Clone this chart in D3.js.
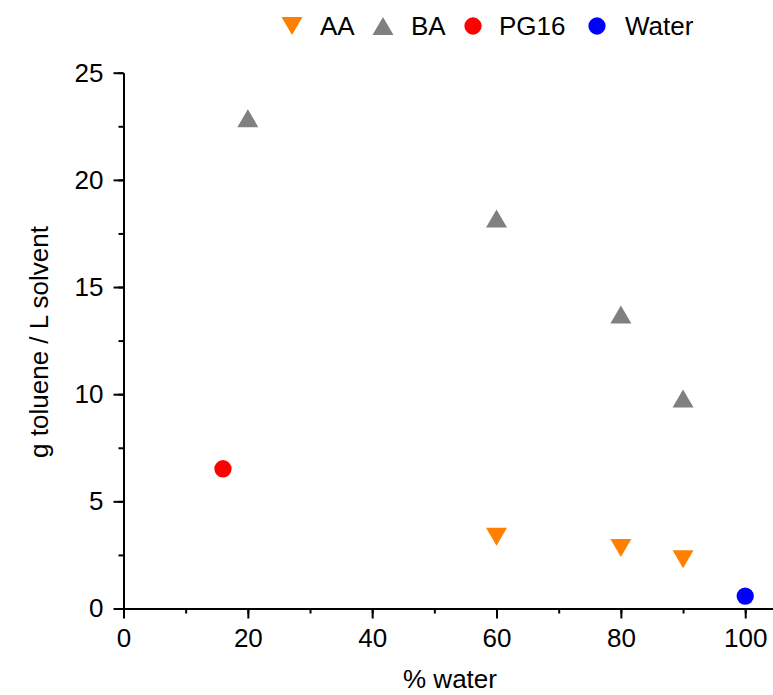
<!DOCTYPE html>
<html><head><meta charset="utf-8">
<script src="https://cdn.jsdelivr.net/npm/d3@7"></script>
<style>body{margin:0;background:#fff}svg{display:block}text{font-family:"Liberation Sans",Arial,sans-serif;fill:#000}</style>
</head><body><svg id="c" width="773" height="695"></svg>
<script>
const seriesNames = ["AA","BA","PG16","Water"];
const seriesColors = ["#FF8000","#808080","#FF0000","#0000FF"];
const seriesShapes = ["down","up","circle","circle"];
const aaX = [60,80,90], aaY = [3.35,2.82,2.3];
const baX = [20,60,80,90], baY = [22.88,18.2,13.72,9.8];
const pgX = [16], pgY = [6.52];
const waterX = [100], waterY = [0.58];
const xTicks = [0,20,40,60,80,100];
const yTicks = [0,5,10,15,20,25];

const svg = d3.select("#c");
const x = d3.scaleLinear().domain([0,105]).range([123.5,776.3]);
const y = d3.scaleLinear().domain([0,25]).range([608.5,72.7]);

function styleAxis(g){
  g.selectAll("path.domain").attr("stroke","#000").attr("stroke-width",2);
  g.selectAll("line").attr("stroke","#000").attr("stroke-width",2);
}
const xa = svg.append("g").attr("transform",`translate(0,${y(0)})`)
  .call(d3.axisBottom(x).tickValues(d3.range(0,106,10)).tickSize(5).tickFormat("").tickSizeOuter(0));
styleAxis(xa);
const xb = svg.append("g").attr("transform",`translate(0,${y(0)})`)
  .call(d3.axisBottom(x).tickValues(xTicks).tickSize(10).tickPadding(10).tickSizeOuter(0));
styleAxis(xb);
xb.selectAll("text").attr("font-size",26);
const ya = svg.append("g").attr("transform",`translate(${x(0)},0)`)
  .call(d3.axisLeft(y).tickValues(d3.range(0,25.1,2.5)).tickSize(5).tickFormat("").tickSizeOuter(0));
styleAxis(ya);
const yb = svg.append("g").attr("transform",`translate(${x(0)},0)`)
  .call(d3.axisLeft(y).tickValues(yTicks).tickSize(10).tickPadding(10).tickSizeOuter(0));
styleAxis(yb);
yb.selectAll("text").attr("font-size",26);
svg.selectAll(".domain").attr("fill","none");

svg.append("text").attr("x",450).attr("y",688).attr("text-anchor","middle").attr("font-size",26).text("% water");
svg.append("text").attr("transform","translate(48,342) rotate(-90)").attr("text-anchor","middle").attr("font-size",26).text("g toluene / L solvent");

const circle = d3.symbol().type(d3.symbolCircle).size(235);
function marker(g, shape, color, cx, cy){
  let d;
  if (shape==="circle") d = circle();
  else if (shape==="up") d = "M0,-9L10.5,9L-10.5,9Z";
  else d = "M0,9L10.5,-9L-10.5,-9Z";
  g.append("path").attr("d", d).attr("fill", color).attr("transform", `translate(${cx},${cy})`);
}
const data = [[aaX,aaY],[baX,baY],[pgX,pgY],[waterX,waterY]];
const pts = svg.append("g");
data.forEach(([xs,ys],i)=>{
  xs.forEach((v,j)=>marker(pts, seriesShapes[i], seriesColors[i], x(v), y(ys[j])));
});

const legX = [292,383,473,597];
const legTextX = [320,411,499,625];
const leg = svg.append("g");
seriesNames.forEach((n,i)=>{
  marker(leg, seriesShapes[i], seriesColors[i], legX[i], 26);
  leg.append("text").attr("x",legTextX[i]).attr("y",26).attr("dy","0.35em").attr("font-size",26).text(n);
});
</script></body></html>
